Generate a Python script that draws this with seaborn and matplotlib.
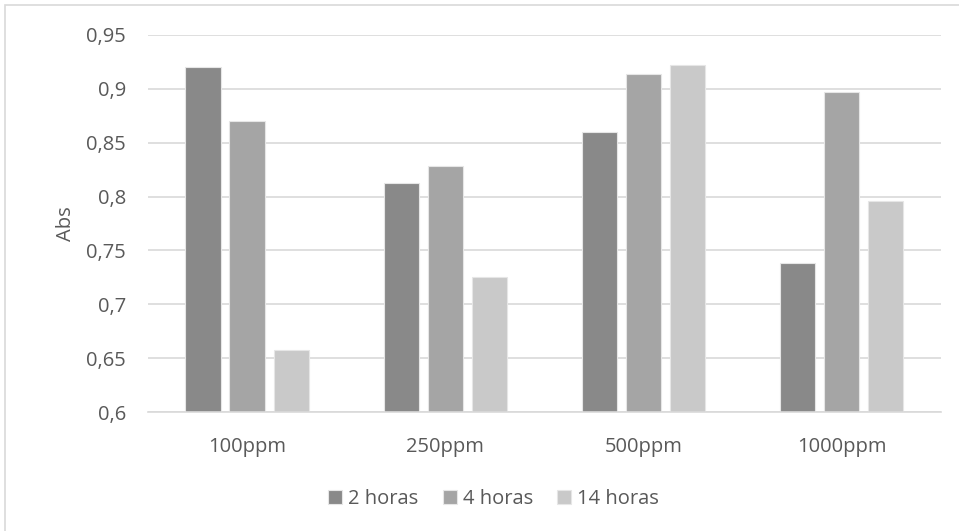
import matplotlib
matplotlib.use("Agg")
import matplotlib.pyplot as plt
from matplotlib.patches import Rectangle
import pandas as pd
import seaborn as sns

concentrations = ["100ppm", "250ppm", "500ppm", "1000ppm"]
series_names = ["2 horas", "4 horas", "14 horas"]
abs_2h = [0.920, 0.813, 0.860, 0.738]
abs_4h = [0.870, 0.828, 0.914, 0.897]
abs_14h = [0.658, 0.725, 0.922, 0.796]
y_ticks = [0.6, 0.65, 0.7, 0.75, 0.8, 0.85, 0.9, 0.95]
y_tick_labels = ["0,6", "0,65", "0,7", "0,75", "0,8", "0,85", "0,9", "0,95"]

colors = ["#898989", "#a5a5a5", "#c9c9c9"]

df = pd.DataFrame({
    "conc": concentrations * 3,
    "tempo": [series_names[0]] * 4 + [series_names[1]] * 4 + [series_names[2]] * 4,
    "abs": abs_2h + abs_4h + abs_14h,
})

sns.set_style("white")
plt.rcParams["font.family"] = ["Open Sans", "DejaVu Sans"]

FS = 14.5
TXT = "#595959"

fig = plt.figure(figsize=(9.59, 5.31), dpi=100)
ax = fig.add_axes([0.1543, 0.2241, 0.9812 - 0.1543, 0.9341 - 0.2241])

# outer chart frame
fig.patches.append(Rectangle((5 / 959, -0.01), 1.0, 1 - 5 / 531 + 0.01,
                             transform=fig.transFigure, fill=False,
                             edgecolor="#d9d9d9", linewidth=1.2))

sns.barplot(data=df, x="conc", y="abs", hue="tempo", order=concentrations,
            hue_order=series_names, palette=colors, width=0.666, gap=0.2,
            edgecolor="#e6e6e6", linewidth=0.8, ax=ax, legend=True)

ax.set_ylim(0.6, 0.95)
ax.set_yticks(y_ticks)
ax.set_yticklabels(y_tick_labels)
ax.set_xlim(-0.5, 3.5)
ax.yaxis.grid(True, color="#d9d9d9", linewidth=1.2)
ax.set_axisbelow(True)
for s in ["top", "right", "left"]:
    ax.spines[s].set_visible(False)
ax.spines["bottom"].set_color("#d9d9d9")
ax.spines["bottom"].set_linewidth(1.2)
ax.tick_params(axis="both", length=0, labelsize=FS, labelcolor=TXT)
ax.tick_params(axis="y", pad=16)
ax.tick_params(axis="x", pad=18)
ax.set_xlabel("")
ax.set_ylabel("Abs", fontsize=FS, color=TXT, labelpad=7)

handles, labels = ax.get_legend_handles_labels()
ax.legend(handles, labels, loc="center", bbox_to_anchor=(0.436, -0.232),
          ncol=3, frameon=False, fontsize=FS, labelcolor=TXT,
          handlelength=0.7, handleheight=0.7, handletextpad=0.3,
          columnspacing=1.2)

fig.savefig("out.png", dpi=100, facecolor="white")
